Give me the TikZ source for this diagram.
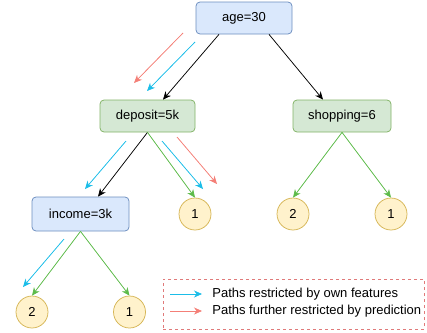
\documentclass[tikz,border=0pt]{standalone}
\usepackage{fontspec}
\setmainfont{Liberation Sans}
\usetikzlibrary{arrows.meta}
\definecolor{bluefill}{HTML}{DAE8FC}
\definecolor{bluedraw}{HTML}{6C8EBF}
\definecolor{greenfill}{HTML}{D5E8D4}
\definecolor{greendraw}{HTML}{82B366}
\definecolor{leaffill}{HTML}{FFF2CC}
\definecolor{leafdraw}{HTML}{D6B656}
\definecolor{edgegreen}{HTML}{5DBB4A}
\definecolor{owncyan}{HTML}{1BBDE8}
\definecolor{predred}{HTML}{F47F77}
\definecolor{legendred}{HTML}{E07A7A}
\begin{document}
\begin{tikzpicture}[x=1pt, y=-1pt, line width=0.75pt,
    every node/.style={font=\fontsize{13}{15}\selectfont},
    tip/.style={-{Stealth[length=8pt,width=7pt,inset=2.5pt]}},
    split/.style={draw=#1draw, fill=#1fill, rounded corners=4pt, minimum height=32pt},
    leaf/.style={circle, draw=leafdraw, fill=leaffill, minimum size=32pt, inner sep=0pt},
    black edge/.style={tip, draw=black},
    green edge/.style={tip, draw=edgegreen, fill=edgegreen},
    own/.style={tip, draw=owncyan, fill=owncyan},
    pred/.style={tip, draw=predred, fill=predred}]
    \useasboundingbox (0,0) rectangle (427,332);
    % Draw the split nodes
    \node[split=blue, minimum width=96pt] (age) at (244,18) {age=30};
    \node[split=green, minimum width=95pt] (deposit) at (147.5,116) {deposit=5k};
    \node[split=green, minimum width=98pt] (shopping) at (342,116) {shopping=6};
    \node[split=blue, minimum width=97pt, minimum height=34pt] (income) at (80.5,214) {income=3k};
    % Draw the leaves
    \foreach \name/\x/\y/\val in {l1/195/214/1, l2/293/214/2, l3/391/214/1, l4/32/312/2, l5/129.5/312/1} {
        \node[leaf] (\name) at (\x,\y) {\val};
    }
    % Draw the edges
    \draw[black edge] ([xshift=-25pt]age.south) -- ([xshift=15.5pt]deposit.north);
    \draw[black edge] ([xshift=25pt]age.south) -- ([xshift=-19pt]shopping.north);
    \draw[black edge] (deposit.south) -- ([xshift=17.5pt]income.north);
    \foreach \a/\b in {deposit/l1, income/l4, income/l5, shopping/l2, shopping/l3} {
        \draw[green edge] (\a.south) -- (\b.north);
    }
    % Draw the restricted paths
    \foreach \n/\s/\sx/\sy/\ex/\ey in {r1/pred/183/33/134/83, b1/own/195/42/147/91,
        b2/own/126/141/85/189, b3/own/162/141/203/189, r3/pred/177/137/217/184,
        b4/own/64/239/23/287} {
        \coordinate (\n s) at (\sx,\sy);
        \coordinate (\n e) at (\ex,\ey);
        \draw[\s] (\n s) -- (\n e);
    }
    % Draw the legend
    \node[draw=legendred, dash pattern=on 3pt off 3pt, minimum width=261pt, minimum height=50pt] (legend) at (293.5,304) {};
    \coordinate (os) at (170,294);
    \coordinate (oe) at (202,294);
    \coordinate (ps) at (170,311);
    \coordinate (pe) at (202,311);
    \draw[own] (os) -- (oe);
    \draw[pred] (ps) -- (pe);
    \node[anchor=west, inner sep=0pt] (owntext) at (212,294) {Paths restricted by own features};
    \node[anchor=west, inner sep=0pt] (predtext) at (212,311) {Paths further restricted by prediction};
\end{tikzpicture}
\end{document}
